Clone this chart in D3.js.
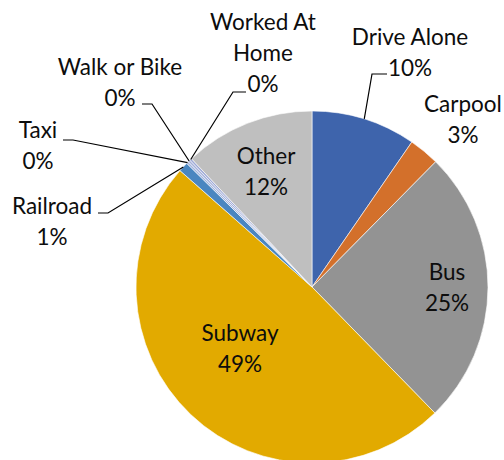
<!DOCTYPE html>
<html>
<head>
<meta charset="utf-8">
<script src="https://cdn.jsdelivr.net/npm/d3@7"></script>
<style>
  html, body { margin: 0; padding: 0; background: #fff; }
  svg { display: block; }
  text { font-family: Lato, "Open Sans", sans-serif; fill: #0d0d0d; }
</style>
</head>
<body>
<svg id="chart" width="504" height="460"></svg>
<script>
// ---- data ----
const categories = ["Drive Alone", "Carpool", "Bus", "Subway", "Railroad", "Taxi", "Walk or Bike", "Worked At Home", "Other"];
const values = [9.6, 2.8, 25.3, 48.8, 0.9, 0.2, 0.2, 0.2, 12.0];
const colors = ["#3E64AC", "#D3702B", "#939393", "#E2AA00", "#4A86C0", "#A5B6DE", "#A5B0DA", "#9EA9D6", "#BFBFBF"];

// ---- layout (label placement) ----
const labelLayout = {
  "Drive Alone":    { lines: ["Drive Alone"], cx: 410, cy: 37, leader: [[372, 74], [387, 74]] },
  "Carpool":        { lines: ["Carpool"], cx: 463, cy: 104 },
  "Bus":            { lines: ["Bus"], inside: 0.767 },
  "Subway":         { lines: ["Subway"], cx: 240, cy: 333 },
  "Railroad":       { lines: ["Railroad"], cx: 52, cy: 206, leader: [[108, 213], [98, 213]] },
  "Taxi":           { lines: ["Taxi"], cx: 38, cy: 130, leader: [[73, 140], [63, 140]] },
  "Walk or Bike":   { lines: ["Walk or Bike"], cx: 120, cy: 67, leader: [[152, 104], [142, 104]] },
  "Worked At Home": { lines: ["Worked At", "Home"], cx: 263, cy: 22, leader: [[233, 92], [246, 92]] },
  "Other":          { lines: ["Other"], inside: 0.709 }
};

const cx = 312, cy = 287, R = 176;
const lineH = 31;
const fontSize = 22.5;

const svg = d3.select("#chart");
const g = svg.append("g").attr("transform", `translate(${cx},${cy})`);

const data = categories.map((c, i) => ({ name: c, value: values[i], color: colors[i] }));
const pie = d3.pie().sort(null).value(d => d.value);
const arcs = pie(data);
const arc = d3.arc().innerRadius(0).outerRadius(R);

g.selectAll("path.slice")
  .data(arcs)
  .join("path")
  .attr("class", "slice")
  .attr("d", arc)
  .attr("fill", d => d.data.color)
  .attr("stroke", "#fff")
  .attr("stroke-width", 0.6);

const pct = v => Math.round(v) + "%";

arcs.forEach(a => {
  const L = labelLayout[a.data.name];
  const allLines = L.lines.concat([pct(a.data.value)]);
  let lx, ly;
  if (L.inside) {
    const mid = (a.startAngle + a.endAngle) / 2;
    const r = R * L.inside;
    lx = cx + r * Math.sin(mid);
    ly = cy - r * Math.cos(mid) - lineH * (allLines.length - 1) / 2;
  } else {
    lx = L.cx; ly = L.cy;
  }
  const t = svg.append("text")
    .attr("text-anchor", "middle")
    .attr("font-size", fontSize);
  allLines.forEach((s, i) => {
    t.append("tspan")
      .attr("x", lx)
      .attr("y", ly + i * lineH)
      .attr("dy", "0.36em")
      .text(s);
  });
  if (L.leader) {
    const mid = (a.startAngle + a.endAngle) / 2;
    const px = cx + R * Math.sin(mid), py = cy - R * Math.cos(mid);
    const pts = [[px, py]].concat(L.leader);
    svg.append("path")
      .attr("d", d3.line()(pts))
      .attr("fill", "none")
      .attr("stroke", "#000")
      .attr("stroke-width", 1.2);
  }
});
</script>
</body>
</html>
